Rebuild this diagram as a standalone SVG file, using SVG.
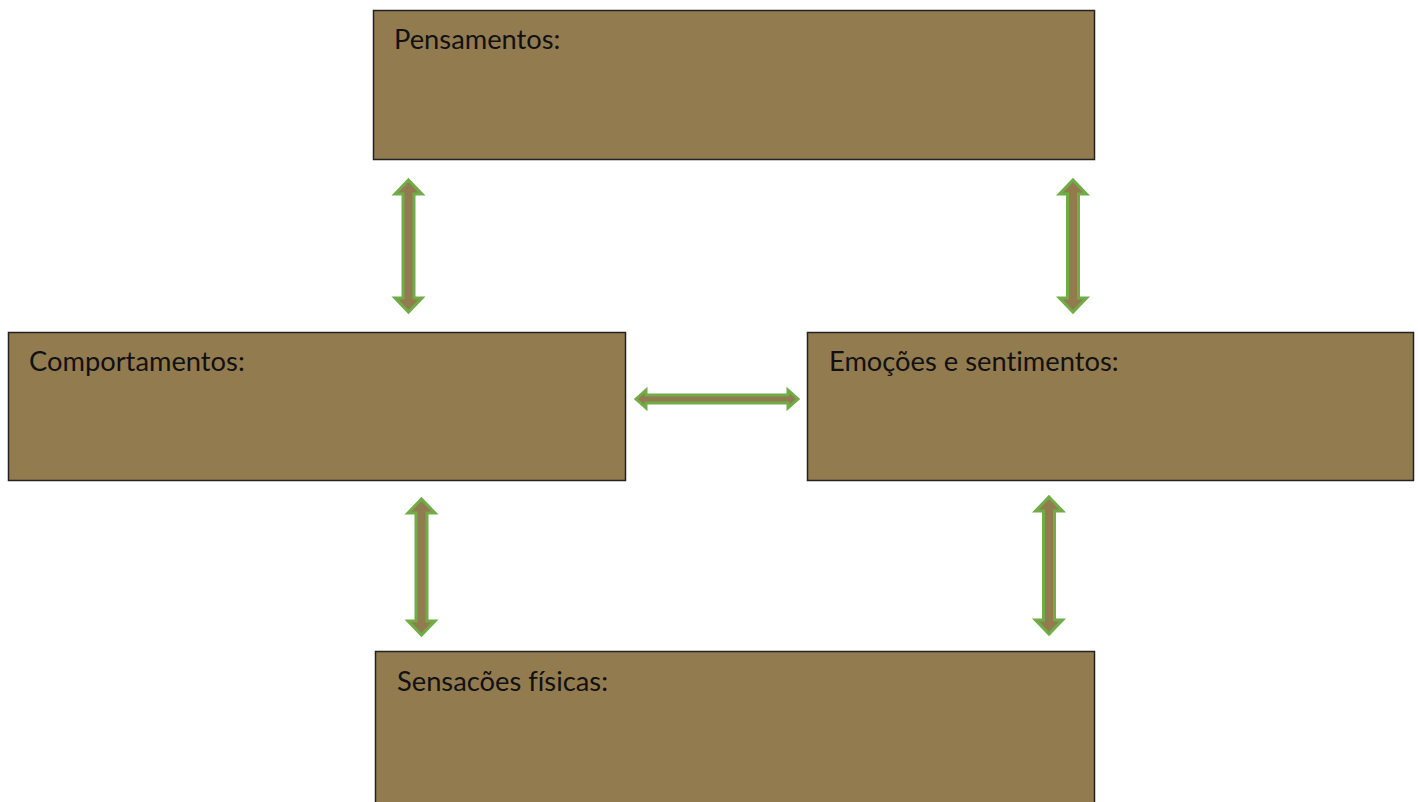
<svg xmlns="http://www.w3.org/2000/svg" width="1418" height="802" viewBox="0 0 1418 802">
<style>
.box{fill:#937B50;stroke:#222;stroke-width:1.5}
.lbl{font-family:Lato,"Open Sans",sans-serif;font-size:27.3px;fill:#111;font-variant-ligatures:none}
.arr{fill:#937B50;stroke:#70AD47;stroke-width:3;stroke-linejoin:miter}
</style>
<rect width="1418" height="802" fill="#fff"/>
<g id="pensamentos"><rect class="box" x="373.5" y="10.5" width="721" height="149"/><text class="lbl" x="394" y="49">Pensamentos:</text></g>
<g id="comportamentos"><rect class="box" x="8.5" y="332.5" width="617" height="148"/><text class="lbl" x="29" y="371">Comportamentos:</text></g>
<g id="emocoes"><rect class="box" x="807.5" y="332.5" width="606" height="148"/><text class="lbl" x="829" y="371">Emoções e sentimentos:</text></g>
<g id="sensacoes"><rect class="box" x="375.5" y="651.5" width="719" height="160"/><text class="lbl" x="397" y="691">Sensacões físicas:</text></g>
<g id="connectors">
<polygon class="arr" points="408.5,180 422,194 414,194 414,298 422,298 408.5,312 395,298 403,298 403,194 395,194"/>
<polygon class="arr" points="1073,180 1086.5,194 1078.5,194 1078.5,298 1086.5,298 1073,312 1059.5,298 1067.5,298 1067.5,194 1059.5,194"/>
<polygon class="arr" points="636,399 646,390 646,395 788,395 788,390 798,399 788,408 788,403 646,403 646,408"/>
<polygon class="arr" points="421.5,499 435,513 427,513 427,621 435,621 421.5,635 408,621 416,621 416,513 408,513"/>
<polygon class="arr" points="1049,497 1062.5,511 1054.5,511 1054.5,620 1062.5,620 1049,634 1035.5,620 1043.5,620 1043.5,511 1035.5,511"/>
</g>
</svg>
